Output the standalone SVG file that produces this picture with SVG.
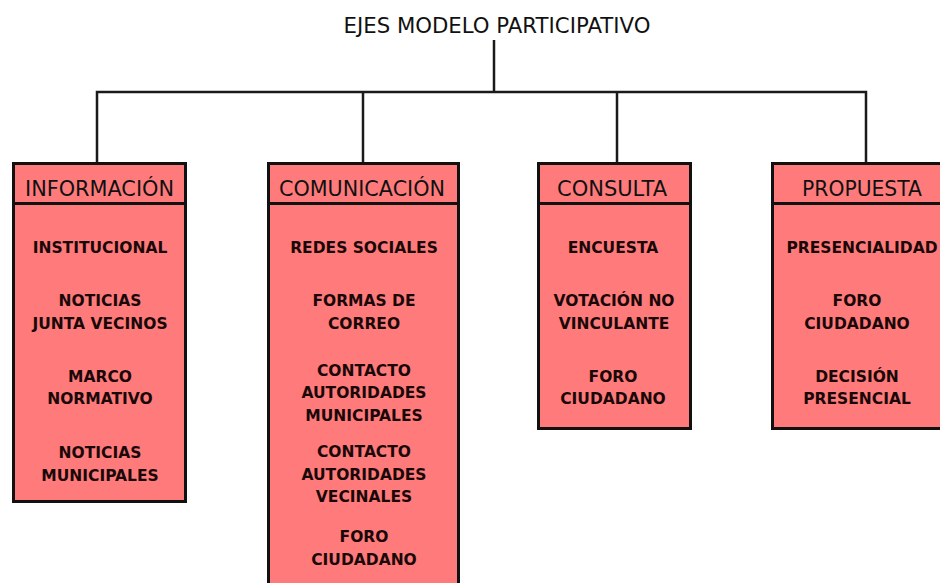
<svg xmlns="http://www.w3.org/2000/svg" width="940" height="583" viewBox="0 0 940 583">
<style>
.box{fill:#ff7b7b;stroke:#111;stroke-width:3}
.div{stroke:#111;stroke-width:3}
.con{fill:none;stroke:#1a1a1a;stroke-width:2.5}
.title{font-family:"DejaVu Sans",Verdana,sans-serif;font-size:20.5px;fill:#111;text-anchor:middle}
.hd{font-family:"DejaVu Sans",Verdana,sans-serif;font-size:20.5px;fill:#111;text-anchor:middle}
.it{font-family:"DejaVu Sans",Verdana,sans-serif;font-size:15.5px;font-weight:bold;fill:#1a0808;text-anchor:middle}
</style>
<rect width="940" height="583" fill="#fff"/>
<g id="title">
<text class="title" x="497" y="33" textLength="307" lengthAdjust="spacingAndGlyphs">EJES MODELO PARTICIPATIVO</text>
</g>
<g id="connectors">
<path class="con" d="M494 40V92"/>
<path class="con" d="M97 162V92H866V162"/>
<path class="con" d="M363 92V162"/>
<path class="con" d="M617 92V162"/>
</g>
<g id="informacion">
<rect class="box" x="13.5" y="163.5" width="172" height="338"/>
<line class="div" x1="13.5" y1="203.5" x2="185.5" y2="203.5"/>
<text class="hd" x="99.5" y="196" textLength="149" lengthAdjust="spacingAndGlyphs">INFORMACIÓN</text>
<text class="it" x="100" y="253">INSTITUCIONAL</text>
<text class="it" x="100" y="306">NOTICIAS</text>
<text class="it" x="100" y="329">JUNTA VECINOS</text>
<text class="it" x="100" y="382">MARCO</text>
<text class="it" x="100" y="404">NORMATIVO</text>
<text class="it" x="100" y="458">NOTICIAS</text>
<text class="it" x="100" y="481">MUNICIPALES</text>
</g>
<g id="comunicacion">
<rect class="box" x="268.5" y="163.5" width="190" height="440"/>
<line class="div" x1="268.5" y1="203.5" x2="458.5" y2="203.5"/>
<text class="hd" x="362" y="196" textLength="166" lengthAdjust="spacingAndGlyphs">COMUNICACIÓN</text>
<text class="it" x="364" y="253">REDES SOCIALES</text>
<text class="it" x="364" y="306">FORMAS DE</text>
<text class="it" x="364" y="329">CORREO</text>
<text class="it" x="364" y="376">CONTACTO</text>
<text class="it" x="364" y="398">AUTORIDADES</text>
<text class="it" x="364" y="421">MUNICIPALES</text>
<text class="it" x="364" y="457">CONTACTO</text>
<text class="it" x="364" y="480">AUTORIDADES</text>
<text class="it" x="364" y="502">VECINALES</text>
<text class="it" x="364" y="542">FORO</text>
<text class="it" x="364" y="565">CIUDADANO</text>
</g>
<g id="consulta">
<rect class="box" x="538.5" y="163.5" width="152" height="265"/>
<line class="div" x1="538.5" y1="203.5" x2="690.5" y2="203.5"/>
<text class="hd" x="612" y="196" textLength="110" lengthAdjust="spacingAndGlyphs">CONSULTA</text>
<text class="it" x="613" y="253">ENCUESTA</text>
<text class="it" x="614" y="306">VOTACIÓN NO</text>
<text class="it" x="614" y="329">VINCULANTE</text>
<text class="it" x="613" y="382">FORO</text>
<text class="it" x="613" y="404">CIUDADANO</text>
</g>
<g id="propuesta">
<rect class="box" x="772.5" y="163.5" width="180" height="265"/>
<line class="div" x1="772.5" y1="203.5" x2="952.5" y2="203.5"/>
<text class="hd" x="862" y="196" textLength="120" lengthAdjust="spacingAndGlyphs">PROPUESTA</text>
<text class="it" x="862" y="253">PRESENCIALIDAD</text>
<text class="it" x="857" y="306">FORO</text>
<text class="it" x="857" y="329">CIUDADANO</text>
<text class="it" x="857" y="382">DECISIÓN</text>
<text class="it" x="857" y="404">PRESENCIAL</text>
</g>
</svg>
